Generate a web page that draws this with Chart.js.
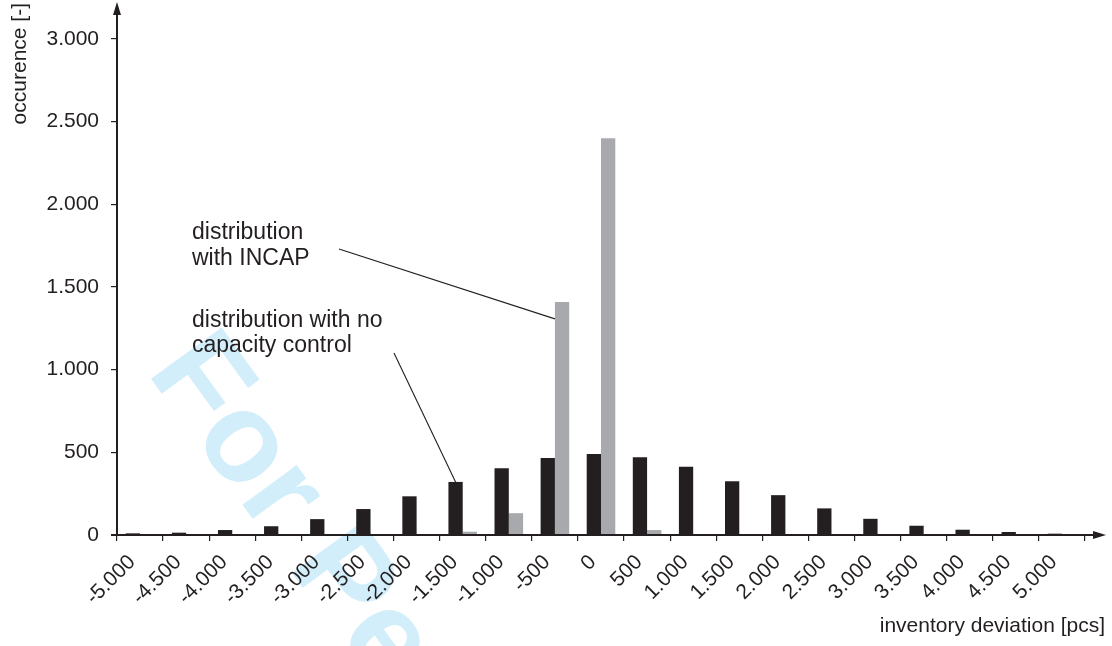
<!DOCTYPE html>
<html>
<head>
<meta charset="utf-8">
<script src="https://cdn.jsdelivr.net/npm/chart.js@4.4.1/dist/chart.umd.min.js"></script>
<style>
html,body{margin:0;padding:0;background:#fff;}
#wrap{width:1112px;height:646px;position:relative;}
</style>
</head>
<body>
<div id="wrap"><canvas id="c" width="1112" height="646"></canvas></div>
<script>
// ---- data ----
const categories = [-5000,-4500,-4000,-3500,-3000,-2500,-2000,-1500,-1000,-500,0,500,1000,1500,2000,2500,3000,3500,4000,4500,5000];
const tickLabels = ['-5.000','-4.500','-4.000','-3.500','-3.000','-2.500','-2.000','-1.500','-1.000','-500','0','500','1.000','1.500','2.000','2.500','3.000','3.500','4.000','4.500','5.000'];
const noCapacityControl = [10,14,30,53,96,157,234,321,403,466,490,470,413,325,241,161,98,56,32,18,8];
const withIncap = [0,0,0,0,0,0,0,20,132,1410,2400,30,0,0,0,0,0,0,0,0,0];
const yTickValues = [0,500,1000,1500,2000,2500,3000];
const yTitle = 'occurence [-]';
const xTitle = 'inventory deviation [pcs]';
const noteIncap = ['distribution', 'with INCAP'];
const noteNoControl = ['distribution with no', 'capacity control'];
const watermarkText = 'For Peer Review';

function fmt(v){ return String(v).replace(/\B(?=(\d{3})+(?!\d))/g, '.'); }

const INK = '#231f20';
const GREY = '#a7a9ac';
const FONT = "'Liberation Sans', Arial, Helvetica, sans-serif";

const watermark = {
  id: 'watermark',
  beforeDraw(chart){
    const ctx = chart.ctx;
    ctx.save();
    ctx.translate(146, 372);
    ctx.rotate(54 * Math.PI / 180);
    ctx.font = 'bold 127px ' + FONT;
    ctx.fillStyle = '#d3eefb';
    ctx.textBaseline = 'alphabetic';
    ctx.textAlign = 'left';
    ctx.fillText(watermarkText, 0, 0);
    ctx.restore();
  }
};

const decorations = {
  id: 'decorations',
  afterDraw(chart){
    const ctx = chart.ctx;
    const a = chart.chartArea;
    const y0 = chart.scales.y.getPixelForValue(0);
    ctx.save();
    ctx.strokeStyle = INK;
    ctx.fillStyle = INK;
    ctx.lineWidth = 2;
    // y axis with arrow
    ctx.beginPath();
    ctx.moveTo(a.left, y0 + 1);
    ctx.lineTo(a.left, 12);
    ctx.stroke();
    ctx.beginPath();
    ctx.moveTo(a.left, 2);
    ctx.lineTo(a.left - 4, 15);
    ctx.lineTo(a.left + 4, 15);
    ctx.closePath();
    ctx.fill();
    // x axis with arrow
    ctx.beginPath();
    ctx.moveTo(a.left - 6, y0);
    ctx.lineTo(1095, y0);
    ctx.stroke();
    ctx.beginPath();
    ctx.moveTo(1106, y0);
    ctx.lineTo(1093, y0 - 4);
    ctx.lineTo(1093, y0 + 4);
    ctx.closePath();
    ctx.fill();

    // axis titles
    ctx.font = '21px ' + FONT;
    ctx.fillStyle = INK;
    ctx.save();
    ctx.translate(20, 3);
    ctx.rotate(-Math.PI / 2);
    ctx.textAlign = 'right';
    ctx.textBaseline = 'middle';
    ctx.fillText(yTitle, 0, 0);
    ctx.restore();
    ctx.textAlign = 'right';
    ctx.textBaseline = 'alphabetic';
    ctx.fillText(xTitle, 1105, 632);

    // annotations
    ctx.font = '23px ' + FONT;
    ctx.textAlign = 'left';
    ctx.fillText(noteIncap[0], 192, 239);
    ctx.fillText(noteIncap[1], 192, 265);
    ctx.fillText(noteNoControl[0], 192, 327);
    ctx.fillText(noteNoControl[1], 192, 352);

    // leader lines to bars
    const gBar = chart.getDatasetMeta(1).data[categories.indexOf(-500)];
    const bBar = chart.getDatasetMeta(0).data[categories.indexOf(-1500)];
    ctx.lineWidth = 1.1;
    ctx.beginPath();
    ctx.moveTo(339, 249);
    ctx.lineTo(gBar.x - gBar.width / 2, gBar.y + 17);
    ctx.stroke();
    ctx.beginPath();
    ctx.moveTo(394, 353);
    ctx.lineTo(bBar.x, bBar.y);
    ctx.stroke();
    ctx.restore();
  }
};

new Chart(document.getElementById('c'), {
  type: 'bar',
  data: {
    labels: tickLabels,
    datasets: [
      { label: 'distribution with no capacity control', data: noCapacityControl, backgroundColor: INK, borderWidth: 0, barPercentage: 1, categoryPercentage: 0.62 },
      { label: 'distribution with INCAP', data: withIncap, backgroundColor: GREY, borderWidth: 0, barPercentage: 1, categoryPercentage: 0.62 }
    ]
  },
  options: {
    responsive: false,
    animation: false,
    devicePixelRatio: 1,
    layout: { padding: { left: 0, right: 27, top: 39, bottom: 0 } },
    plugins: { legend: { display: false }, tooltip: { enabled: false } },
    scales: {
      x: {
        offset: true,
        grid: { offset: true, drawOnChartArea: false, drawTicks: true, tickLength: 6, color: INK, lineWidth: 1.2 },
        border: { display: false },
        ticks: { autoSkip: false, minRotation: 45, maxRotation: 45, padding: 9, labelOffset: -8, color: INK, font: { family: FONT, size: 21 } },
        afterFit(s){ s.height = 111; }
      },
      y: {
        min: 0, max: 3000,
        afterBuildTicks(s){ s.ticks = yTickValues.map(v => ({ value: v })); },
        grid: { drawOnChartArea: false, drawTicks: true, tickLength: 6, color: INK, lineWidth: 1.2 },
        border: { display: false },
        ticks: { padding: 12, color: INK, font: { family: FONT, size: 21 }, callback: (v) => fmt(v) },
        afterFit(s){ s.width = 117; }
      }
    }
  },
  plugins: [watermark, decorations]
});
</script>
</body>
</html>
